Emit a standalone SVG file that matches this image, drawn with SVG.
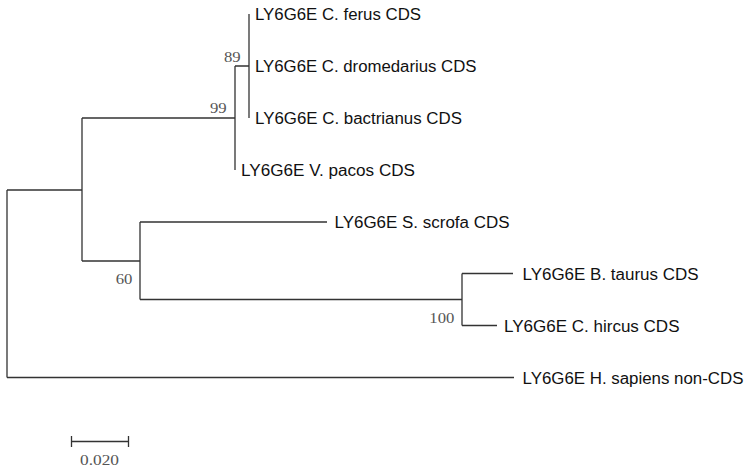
<svg xmlns="http://www.w3.org/2000/svg" width="744" height="471" viewBox="0 0 744 471">
<style>
.br{fill:none;stroke:#333;stroke-width:1.3}
.lb{font-family:"Liberation Sans",Arial,sans-serif;font-size:16px;fill:#111}
.bs{font-family:"Liberation Serif","Times New Roman",serif;font-size:15px;fill:#555}
</style>
<rect width="744" height="471" fill="#fff"/>
<g id="connectors">
<path class="br" d="M7,190V377.5M7,190H82M7,377.5H514"/>
<path class="br" d="M82,118V261M82,118H235M82,261H140"/>
<path class="br" d="M235,66V170M235,66H249"/>
<path class="br" d="M249,14V118"/>
<path class="br" d="M140,222V299.5M140,222H327M140,299.5H462"/>
<path class="br" d="M462,273.5V325.5M462,273.5H513M462,325.5H497"/>
<path class="br" d="M71.5,441.5H128.5M71.5,436V447M128.5,436V447"/>
</g>
<g id="ferus"><text class="lb" x="255" y="20" textLength="166" lengthAdjust="spacingAndGlyphs">LY6G6E C. ferus CDS</text></g>
<g id="dromedarius"><text class="lb" x="255" y="72" textLength="221.5" lengthAdjust="spacingAndGlyphs">LY6G6E C. dromedarius CDS</text></g>
<g id="bactrianus"><text class="lb" x="255" y="124" textLength="207" lengthAdjust="spacingAndGlyphs">LY6G6E C. bactrianus CDS</text></g>
<g id="pacos"><text class="lb" x="241" y="176" textLength="174" lengthAdjust="spacingAndGlyphs">LY6G6E V. pacos CDS</text></g>
<g id="scrofa"><text class="lb" x="334.5" y="228" textLength="175" lengthAdjust="spacingAndGlyphs">LY6G6E S. scrofa CDS</text></g>
<g id="taurus"><text class="lb" x="522.5" y="279.5" textLength="176" lengthAdjust="spacingAndGlyphs">LY6G6E B. taurus CDS</text></g>
<g id="hircus"><text class="lb" x="504" y="331.5" textLength="175.5" lengthAdjust="spacingAndGlyphs">LY6G6E C. hircus CDS</text></g>
<g id="sapiens"><text class="lb" x="522.5" y="383.5" textLength="221" lengthAdjust="spacingAndGlyphs">LY6G6E H. sapiens non-CDS</text></g>
<g id="bootstrap">
<text class="bs" x="224" y="61.7" textLength="16.7" lengthAdjust="spacingAndGlyphs">89</text>
<text class="bs" x="210" y="113.3" textLength="16.7" lengthAdjust="spacingAndGlyphs">99</text>
<text class="bs" x="115.7" y="284.3" textLength="16.7" lengthAdjust="spacingAndGlyphs">60</text>
<text class="bs" x="429.3" y="322.7" textLength="25" lengthAdjust="spacingAndGlyphs">100</text>
</g>
<g id="scale"><text class="bs" x="80" y="465" textLength="39" lengthAdjust="spacingAndGlyphs">0.020</text></g>
</svg>
